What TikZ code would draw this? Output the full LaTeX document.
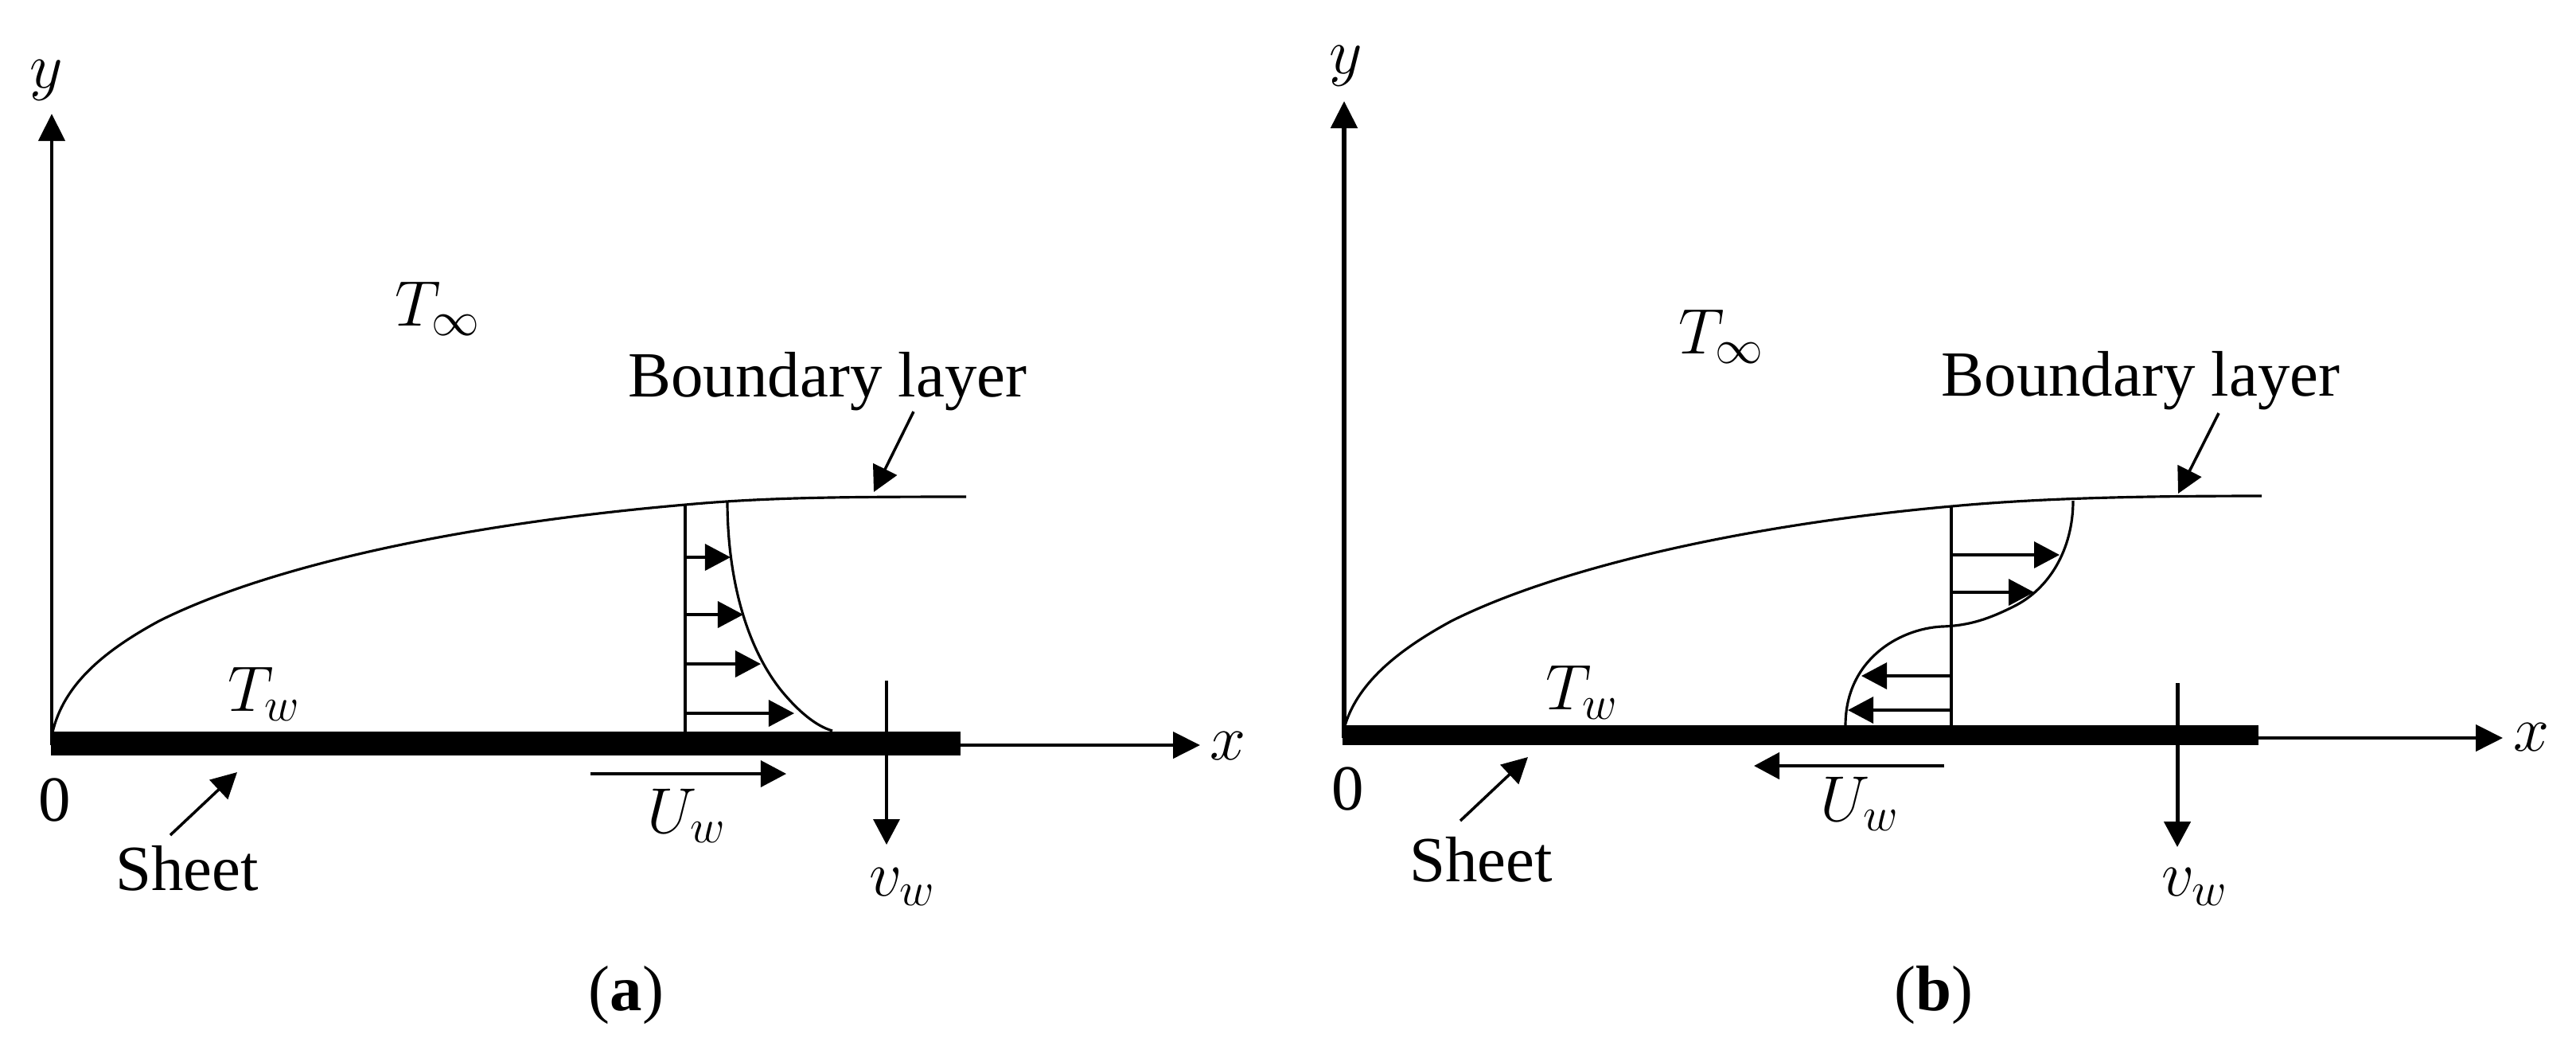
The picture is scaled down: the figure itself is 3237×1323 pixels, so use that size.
\documentclass[tikz,border=0pt]{standalone}
\usepackage{fix-cm}
\usepackage{fontspec}
\setmainfont{Liberation Serif}
\usetikzlibrary{arrows.meta}
\DeclareMathSizes{23}{23}{17}{13}
\tikzset{
lbl/.style={inner sep=0pt,font=\fontsize{23}{28}\selectfont},
thinline/.style={line width=0.9pt},
axisline/.style={line width=1.3pt,-{Triangle[length=0.34cm,width=0.33cm]}},
head/.style={line width=1pt,-{Triangle[length=0.32cm,width=0.33cm]}},
sheetbar/.style={fill=black,draw=none}
}
\begin{document}
\begin{tikzpicture}[x=0.01cm,y=-0.01cm]
\useasboundingbox (0,0) rectangle (3237,1323);
% (a)
\coordinate (ao) at (65,936);
\coordinate (aytip) at (65,143);
\coordinate (axs) at (1207,936);
\coordinate (axtip) at (1508,936);
\draw[axisline](ao)--(aytip);
\draw[axisline](axs)--(axtip);
\fill[sheetbar](64,919)rectangle(1207,949);
\node[lbl](ay) at (58,101){$y$};
\node[lbl](ax) at (1543,937){$x$};
\node[lbl](azero) at (69,1005){0};
\node[lbl](atinf) at (550,388){$T_\infty$};
\node[lbl](atw) at (332,872){$T_w$};
\node[lbl,anchor=base](asheet) at (235,1118){Sheet};
\node[lbl,anchor=base](abl) at (1040,498){Boundary layer};
\node[lbl](auw) at (863,1025){$U_w$};
\node[lbl](avw) at (1134,1114){$v_w$};
\node[lbl](acap) at (787,1250){(\textbf{a})};
\coordinate (ash1) at (214,1049);
\coordinate (ash2) at (298,970);
\draw[head](ash1)--(ash2);
\coordinate (abl1) at (1148,517);
\coordinate (abl2) at (1098,618);
\draw[head](abl1)--(abl2);
\draw[thinline](66,920) .. controls (80,860) and (130,818) .. (200,780) .. controls (330,715) and (560,660) .. (861,634) .. controls (960,625) and (1050,624) .. (1214,624);
\coordinate (awall) at (861,920);
\coordinate (atop) at (861,634);
\draw[thinline](awall)--(atop);
\draw[thinline](914,629) .. controls (914,720) and (935,810) .. (983,869) .. controls (1003,893) and (1025,912) .. (1046,918);
\foreach \yy/\xx in {700/918,772/934,834/956,896/998}{
\coordinate (as\yy) at (861,\yy);
\coordinate (ae\yy) at (\xx,\yy);
\draw[head](as\yy)--(ae\yy);
}
\coordinate (auw1) at (742,972);
\coordinate (auw2) at (988,972);
\draw[head](auw1)--(auw2);
\coordinate (avw1) at (1114,855);
\coordinate (avw2) at (1114,1061);
\draw[head](avw1)--(avw2);
% (b)
\coordinate (bo) at (1689,927);
\coordinate (bytip) at (1689,127);
\coordinate (bxs) at (2838,927);
\coordinate (bxtip) at (3145,927);
\draw[axisline,line width=1.5pt](bo)--(bytip);
\draw[axisline](bxs)--(bxtip);
\fill[sheetbar](1687,911)rectangle(2838,936);
\node[lbl](by) at (1691,83){$y$};
\node[lbl](bx) at (3181,926){$x$};
\node[lbl](bzero) at (1694,991){0};
\node[lbl](btinf) at (2163,423){$T_\infty$};
\node[lbl](btw) at (1988,870){$T_w$};
\node[lbl,anchor=base](bsheet) at (1861,1107){Sheet};
\node[lbl,anchor=base](bbl) at (2690,497){Boundary layer};
\node[lbl](buw) at (2337,1010){$U_w$};
\node[lbl](bvw) at (2758,1114){$v_w$};
\node[lbl](bcap) at (2430,1250){(\textbf{b})};
\coordinate (bsh1) at (1835,1031);
\coordinate (bsh2) at (1920,951);
\draw[head](bsh1)--(bsh2);
\coordinate (bbl1) at (2788,519);
\coordinate (bbl2) at (2737,620);
\draw[head](bbl1)--(bbl2);
\draw[thinline](1689,915) .. controls (1704,860) and (1754,818) .. (1824,780) .. controls (1954,715) and (2184,660) .. (2452,636) .. controls (2560,626) and (2680,623) .. (2842,623);
\coordinate (bwall) at (2452,911);
\coordinate (btop) at (2452,636);
\draw[thinline](bwall)--(btop);
\draw[thinline](2605,629) .. controls (2605,690) and (2575,740) .. (2530,762) .. controls (2500,777) and (2475,786) .. (2440,787) .. controls (2385,790) and (2319,830) .. (2319,911);
\foreach \yy/\xx in {697/2588,744/2556,849/2339,892/2322}{
\coordinate (bs\yy) at (2452,\yy);
\coordinate (be\yy) at (\xx,\yy);
\draw[head](bs\yy)--(be\yy);
}
\coordinate (buw1) at (2443,962);
\coordinate (buw2) at (2204,962);
\draw[head,line width=1.3pt](buw1)--(buw2);
\coordinate (bvw1) at (2736,858);
\coordinate (bvw2) at (2736,1064);
\draw[head,line width=1.4pt](bvw1)--(bvw2);
\end{tikzpicture}
\end{document}
